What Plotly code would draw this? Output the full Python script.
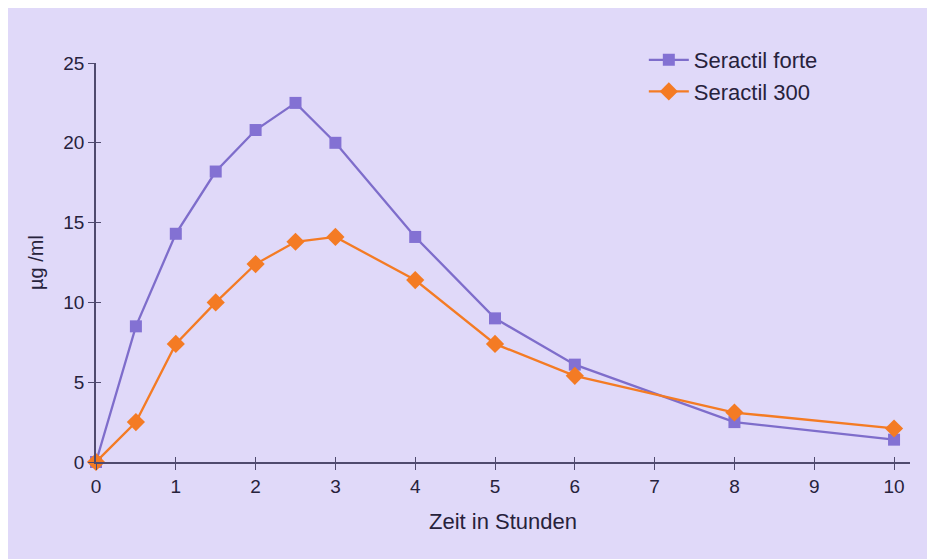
import plotly.graph_objects as go

hours = [0, 0.5, 1, 1.5, 2, 2.5, 3, 4, 5, 6, 8, 10]
forte = [0, 8.5, 14.3, 18.2, 20.8, 22.5, 20.0, 14.1, 9.0, 6.1, 2.5, 1.4]
s300 = [0, 2.5, 7.4, 10.0, 12.4, 13.8, 14.1, 11.4, 7.4, 5.4, 3.1, 2.1]
x_ticks = list(range(0, 11))
y_ticks = [0, 5, 10, 15, 20, 25]

BG = "#E0D9F9"
PURPLE = "#7E6DCB"
ORANGE = "#F47B24"
AXIS = "#4F4A6E"
TXT = "#27223C"
FONT = "Liberation Sans, Arial, sans-serif"

fig = go.Figure()
fig.add_trace(go.Scatter(
    x=hours, y=forte, name="Seractil forte", mode="lines+markers",
    line=dict(color=PURPLE, width=2.3),
    marker=dict(symbol="square", size=12, color="#8371D3"),
    cliponaxis=False,
))
fig.add_trace(go.Scatter(
    x=hours, y=s300, name="Seractil 300", mode="lines+markers",
    line=dict(color=ORANGE, width=2.3),
    marker=dict(symbol="diamond", size=14, color=ORANGE),
    cliponaxis=False,
))
# invisible trace to carry the inner tick axes (crossing ticks)
fig.add_trace(go.Scatter(x=[0], y=[0], xaxis="x2", yaxis="y2", mode="markers",
                         marker=dict(opacity=0), showlegend=False, hoverinfo="skip"))

fig.update_layout(
    width=935, height=559,
    paper_bgcolor=BG, plot_bgcolor=BG,
    margin=dict(l=88, r=33, t=55, b=105),
    font=dict(family=FONT, color=TXT, size=19),
    showlegend=True,
    legend=dict(x=0.673, y=1.06, xanchor="left", yanchor="top",
                bgcolor="rgba(0,0,0,0)", font=dict(size=22, color=TXT),
                tracegroupgap=0, itemwidth=40),
    xaxis=dict(range=[0, 10.2], tickvals=x_ticks, ticks="outside", ticklen=6,
               tickcolor=AXIS, showline=True, linecolor=AXIS, linewidth=1.5,
               showgrid=False, zeroline=False,
               tickfont=dict(size=19, color=TXT),
               title=dict(text="Zeit in Stunden", font=dict(size=22, color=TXT), standoff=18)),
    yaxis=dict(range=[0, 25], tickvals=y_ticks, ticks="outside", ticklen=6,
               tickcolor=AXIS, showline=True, linecolor=AXIS, linewidth=1.5,
               showgrid=False, zeroline=False,
               tickfont=dict(size=19, color=TXT),
               title=dict(text="µg /ml", font=dict(size=20, color=TXT), standoff=14)),
    xaxis2=dict(overlaying="x", matches="x", range=[0, 10.2], tickvals=x_ticks,
                ticks="inside", ticklen=5, tickcolor=AXIS, showticklabels=False,
                showgrid=False, zeroline=False, showline=False, anchor="y2"),
    yaxis2=dict(overlaying="y", matches="y", range=[0, 25], tickvals=y_ticks,
                ticks="inside", ticklen=5, tickcolor=AXIS, showticklabels=False,
                showgrid=False, zeroline=False, showline=False, anchor="x2"),
)

fig.write_html("out.html")
